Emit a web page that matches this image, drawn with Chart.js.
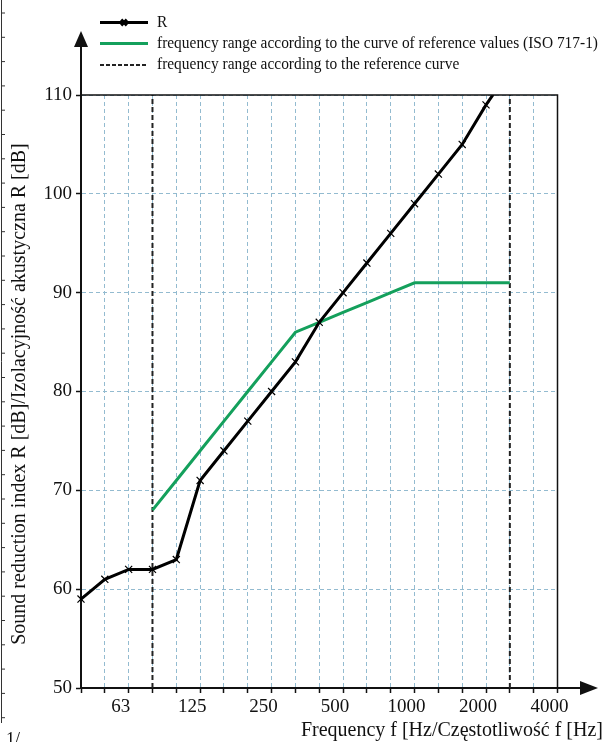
<!DOCTYPE html>
<html>
<head>
<meta charset="utf-8">
<script src="https://cdn.jsdelivr.net/npm/chart.js@4.4.1/dist/chart.umd.min.js"></script>
<style>
    html, body { margin: 0; padding: 0; background: #fff; }
    canvas { display: block; }
</style>
</head>
<body>
<canvas id="chart" width="602" height="742"></canvas>
<script>
/* =========================
   DATA
========================= */
const frequencies = ['40', '50', '63', '80', '100', '125', '160', '200', '250', '315', '400', '500', '630', '800', '1000', '1250', '1600', '2000', '2500', '3150', '4000'];
const shownTicks = ['63', '125', '250', '500', '1000', '2000', '4000'];
const measuredR = [59, 61, 62, 62, 63, 71, 74, 77, 80, 83, 87, 90, 93, 96, 99, 102, 105, 109, 112.5, null, null];
const referenceCurve = [null, null, null, 68, 71, 74, 77, 80, 83, 86, 87, 88, 89, 90, 91, 91, 91, 91, 91, null, null];
const rangeBounds = ['80', '2500'];
const yMin = 50, yMax = 110, yStep = 10;

const legendLabels = [
    'R',
    'frequency range according to the curve of reference values (ISO 717-1)',
    'frequency range according to the reference curve'
];
const yTitle = 'Sound reduction index R [dB]/Izolacyjność akustyczna R [dB]';
const xTitle = 'Frequency f [Hz/Częstotliwość f [Hz]';

const serif = "'Liberation Serif', 'DejaVu Serif', serif";
const gridBlue = '#93bbd0';
const green = '#14a05c';

/* =========================
   DECORATIONS (frame, arrows, legend, titles)
========================= */
const decorations = {
    id: 'decorations',
    afterDraw(chart) {
        const { ctx, chartArea: a } = chart;
        ctx.save();

        // top + right frame
        ctx.strokeStyle = '#111';
        ctx.lineWidth = 1.5;
        ctx.beginPath();
        ctx.moveTo(a.left, a.top);
        ctx.lineTo(a.right, a.top);
        ctx.lineTo(a.right, a.bottom);
        ctx.stroke();

        // axis arrows
        ctx.lineWidth = 2;
        ctx.fillStyle = '#111';
        ctx.beginPath();
        ctx.moveTo(a.left, a.top);
        ctx.lineTo(a.left, 44);
        ctx.moveTo(a.right, a.bottom);
        ctx.lineTo(582, a.bottom);
        ctx.stroke();
        ctx.beginPath();
        ctx.moveTo(a.left, 31);
        ctx.lineTo(a.left - 7, 47);
        ctx.lineTo(a.left + 7, 47);
        ctx.closePath();
        ctx.fill();
        ctx.beginPath();
        ctx.moveTo(598, a.bottom);
        ctx.lineTo(580, a.bottom - 7);
        ctx.lineTo(580, a.bottom + 7);
        ctx.closePath();
        ctx.fill();

        // legend
        const lx0 = 100, lx1 = 148, tx = 157;
        const rows = [22.5, 43.5, 65];
        ctx.lineWidth = 3;
        ctx.strokeStyle = '#000';
        ctx.beginPath(); ctx.moveTo(lx0, rows[0]); ctx.lineTo(lx1, rows[0]); ctx.stroke();
        Chart.helpers.drawPoint(ctx, { pointStyle: 'crossRot', radius: 4, borderWidth: 1 }, 124, rows[0]);
        ctx.strokeStyle = green;
        ctx.beginPath(); ctx.moveTo(lx0, rows[1]); ctx.lineTo(lx1, rows[1]); ctx.stroke();
        ctx.strokeStyle = '#222';
        ctx.lineWidth = 2;
        ctx.setLineDash([4, 2]);
        ctx.beginPath(); ctx.moveTo(lx0, rows[2]); ctx.lineTo(lx1, rows[2]); ctx.stroke();
        ctx.setLineDash([]);

        // the source legend font is a bit condensed: squeeze to fit the same width
        ctx.fillStyle = '#111';
        ctx.font = '16.5px ' + serif;
        ctx.textAlign = 'left';
        ctx.textBaseline = 'middle';
        const squeeze = Math.min(1, 441 / ctx.measureText(legendLabels[1]).width);
        legendLabels.forEach((t, i) => {
            ctx.save();
            ctx.translate(tx, rows[i]);
            ctx.scale(squeeze, 1);
            ctx.fillText(t, 0, 0);
            ctx.restore();
        });

        // axis titles
        ctx.font = '20px ' + serif;
        ctx.textAlign = 'right';
        ctx.fillText(xTitle, 603, 731);

        ctx.save();
        ctx.translate(20, 394);
        ctx.rotate(-Math.PI / 2);
        ctx.textAlign = 'center';
        ctx.fillText(yTitle, 0, 0);
        ctx.restore();

        // page edge leftovers from the source scan
        ctx.strokeStyle = '#333';
        ctx.lineWidth = 1;
        ctx.beginPath();
        ctx.moveTo(1.5, 0);
        ctx.lineTo(1.5, 723);
        for (let y = 13; y < 720; y += 24.3) {
            ctx.moveTo(1.5, y);
            ctx.lineTo(5, y);
        }
        ctx.stroke();
        ctx.font = '18px ' + serif;
        ctx.textAlign = 'left';
        ctx.textBaseline = 'top';
        ctx.fillText('1/', 6, 731);

        ctx.restore();
    }
};

/* =========================
   CHART
========================= */
const boundSets = rangeBounds.map(f => ({
    data: [{ x: f, y: yMin }, { x: f, y: yMax }],
    borderColor: '#222',
    borderWidth: 2,
    borderDash: [5, 3],
    pointRadius: 0
}));

new Chart(document.getElementById('chart'), {
    type: 'line',
    data: {
        labels: frequencies,
        datasets: [
            {
                data: measuredR,
                borderColor: '#000',
                borderWidth: 3,
                pointStyle: 'crossRot',
                pointRadius: 5,
                pointBorderWidth: 1.2,
                pointBorderColor: '#000',
                tension: 0
            },
            {
                data: referenceCurve,
                borderColor: green,
                borderWidth: 3,
                pointRadius: 0,
                tension: 0
            },
            ...boundSets
        ]
    },
    options: {
        responsive: false,
        animation: false,
        events: [],
        layout: { padding: { left: 0, top: 95, right: 44.5, bottom: 0 } },
        plugins: { legend: { display: false }, tooltip: { enabled: false } },
        scales: {
            x: {
                type: 'category',
                offset: false,
                afterFit: s => { s.height = 54; },
                grid: {
                    color: gridBlue,
                    lineWidth: 1,
                    tickColor: '#111',
                    tickWidth: 1.5,
                    tickLength: 5,
                    tickBorderDash: []
                },
                border: { display: true, color: '#111', width: 2, dash: [4, 3] },
                ticks: {
                    autoSkip: false,
                    maxRotation: 0,
                    padding: 3,
                    labelOffset: -8,
                    color: '#111',
                    font: { family: serif, size: 19 },
                    callback: function (v) {
                        const l = this.getLabelForValue(v);
                        return shownTicks.includes(l) ? l : '';
                    }
                }
            },
            y: {
                min: yMin,
                max: yMax,
                afterFit: s => { s.width = 81; },
                grid: {
                    color: gridBlue,
                    lineWidth: 1,
                    tickColor: '#111',
                    tickWidth: 1.5,
                    tickLength: 5,
                    tickBorderDash: []
                },
                border: { display: true, color: '#111', width: 2, dash: [4, 3] },
                ticks: {
                    stepSize: yStep,
                    padding: 4,
                    color: '#111',
                    font: { family: serif, size: 19 }
                }
            }
        }
    },
    plugins: [decorations]
});
</script>
</body>
</html>
